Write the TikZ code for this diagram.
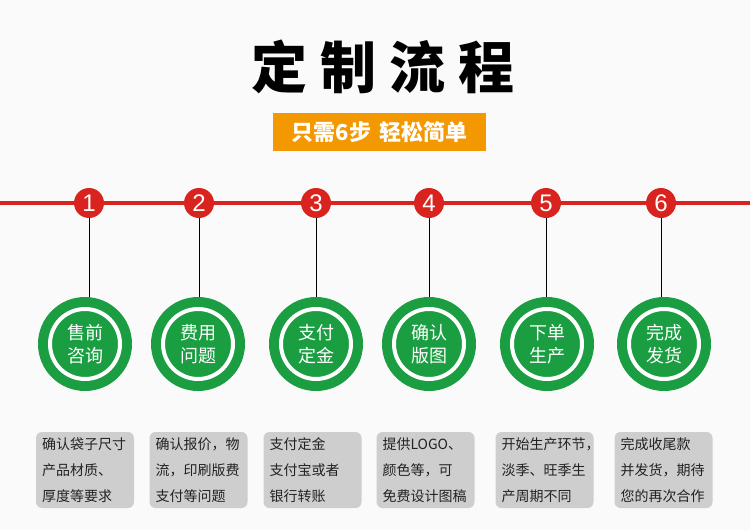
\documentclass[tikz,border=0pt]{standalone}
\usepackage{fontspec}
\setmainfont{Noto Sans CJK SC}
\newfontfamily\numfont{Liberation Sans}
\newfontfamily\cjkfont{Noto Sans CJK SC}
\definecolor{bgc}{HTML}{FAFAFA}
\definecolor{redc}{HTML}{D9231E}
\definecolor{greenc}{HTML}{1B9E42}
\definecolor{orangec}{HTML}{F39800}
\definecolor{greyc}{HTML}{CECECE}
\definecolor{txtc}{HTML}{222222}
\begin{document}
\begin{tikzpicture}[x=1pt,y=-1pt,
  numcircle/.style={circle,fill=redc,minimum size=30pt,inner sep=0pt,text=white,font=\numfont\fontsize{24}{24}\selectfont},
  greencircle/.style={circle,fill=greenc,minimum size=94pt,inner sep=0pt,text=white,align=center,font=\cjkfont\fontsize{18}{23}\selectfont},
  ring/.style={draw=white,line width=4pt},
  infobox/.style={rounded corners=6pt,fill=greyc,minimum width=98pt,minimum height=76pt,text width=86pt,inner sep=0pt,align=left,text=txtc,font=\cjkfont\fontsize{14}{26}\selectfont},
  stem/.style={draw=black,line width=0.8pt}]
\fill[bgc] (0,0) rectangle (750,530);
\useasboundingbox (0,0) rectangle (750,530);
% title
\node[font=\cjkfont\bfseries\fontsize{56}{56}\selectfont,text=black] (title) at (383,67) {定\hspace{13pt}制\hspace{13pt}流\hspace{13pt}程};
\node[fill=orangec,minimum width=213pt,minimum height=38pt,inner sep=0pt,text=white,font=\cjkfont\bfseries\fontsize{22}{22}\selectfont] (sub) at (379.5,132) {只需6步\hspace{8pt}轻松简单};
% red line
\coordinate (L) at (0,203);
\coordinate (R) at (750,203);
\draw[redc,line width=4pt] (L) -- (R);
% numbers
\foreach \i/\x in {1/89,2/199,3/316,4/429,5/546,6/661}{
  \node[numcircle] (n\i) at (\x,203) {\i};
}
% green circles
\foreach \i/\x/\t in {1/85/{售前\\咨询},2/198/{费用\\问题},3/316/{支付\\定金},4/429/{确认\\版图},5/547/{下单\\生产},6/664/{完成\\发货}}{
  \node[greencircle] (g\i) at (\x,344) {\t};
  \draw[ring] (g\i.center) circle (35pt);
}
% stems
\foreach \i in {1,...,6}{
  \draw[stem] (n\i.south) -- (n\i.south |- g\i.north);
}
% boxes
\node[infobox] (b1) at (85,470) {确认袋子尺寸\\产品材质、\\厚度等要求};
\node[infobox] (b2) at (198.5,470) {确认报价，物\\流，印刷版费\\支付等问题};
\node[infobox] (b3) at (312.5,470) {支付定金\\支付宝或者\\银行转账};
\node[infobox] (b4) at (425.5,470) {提供LOGO、\\颜色等，可\\免费设计图稿};
\node[infobox] (b5) at (544.5,470) {开始生产环节，\\淡季、旺季生\\产周期不同};
\node[infobox] (b6) at (663.5,470) {完成收尾款\\并发货，期待\\您的再次合作};
\end{tikzpicture}
\end{document}
